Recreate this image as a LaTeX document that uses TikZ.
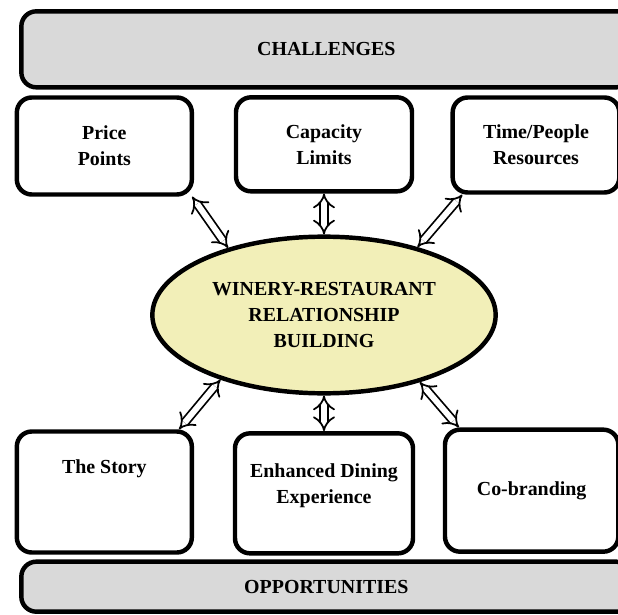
\documentclass[tikz,border=0pt]{standalone}
\usepackage{fontspec}
\setmainfont{Liberation Serif}
\usetikzlibrary{shapes,arrows.meta}
\usetikzlibrary{positioning}
\definecolor{barfill}{HTML}{D9D9D9}
\definecolor{corefill}{HTML}{F2EFB8}
\newcommand{\labelfont}{\bfseries\fontsize{17}{22}\selectfont}
\tikzset{
  bar/.style={draw, rounded corners=0.45cm, fill=barfill, minimum width=18.3cm, font=\labelfont},
  topic/.style={draw, fill=white, rounded corners=0.45cm, align=center, font=\labelfont},
  link/.style={double, double distance=5pt, line width=1.5pt, {Implies}-{Implies}}
}

\begin{document}
\begin{tikzpicture}[node distance=3cm, on grid, line width=3.8pt]
        \useasboundingbox (-9.72,-8.97) rectangle (8.82,9.45);
        \node[ellipse, draw, fill=corefill, minimum width=10.3cm, minimum height=4.7cm,
              align=center, font=\labelfont]  (ctr)  at (0,0)
              {WINERY-RESTAURANT\\RELATIONSHIP\\BUILDING};

        \node[bar, minimum height=2.28cm]     (chal)  [above right=7.97cm and 0.07cm of ctr]  {CHALLENGES};
        \node[bar, minimum height=1.5cm]      (opp)   [below right=8.15cm and 0.07cm of ctr]  {OPPORTUNITIES};

        \node[topic, minimum width=5.25cm, minimum height=2.91cm] (price) [above left=5.07cm and 6.59cm of ctr]  {Price\\Points};
        \node[topic, minimum width=5.28cm, minimum height=2.82cm] (cap)   [above=5.12cm of ctr]                  {Capacity\\Limits};
        \node[topic, minimum width=5.0cm, minimum height=2.85cm]  (time)  [above right=5.1cm and 6.36cm of ctr]  {Time/People\\Resources};

        \node[topic, minimum width=5.25cm, minimum height=3.63cm, text depth=1.55cm] (story) [below left=5.31cm and 6.59cm of ctr] {The Story};
        \node[topic, minimum width=5.34cm, minimum height=3.6cm, text depth=0.6cm]   (dine)  [below=5.35cm of ctr]                  {Enhanced Dining\\Experience};
        \node[topic, minimum width=5.2cm, minimum height=3.66cm]  (brand) [below right=5.27cm and 6.23cm of ctr] {Co-branding};

        \draw[link] (price.330)  -- (ctr.145);
        \draw[link] (cap.south)  -- (ctr.north);
        \draw[link] (time.214)   -- (ctr.36);
        \draw[link] (story.40)   -- (ctr.212);
        \draw[link] (dine.north) -- (ctr.south);
        \draw[link] (brand.139)  -- (ctr.325);
      \end{tikzpicture}
\end{document}
